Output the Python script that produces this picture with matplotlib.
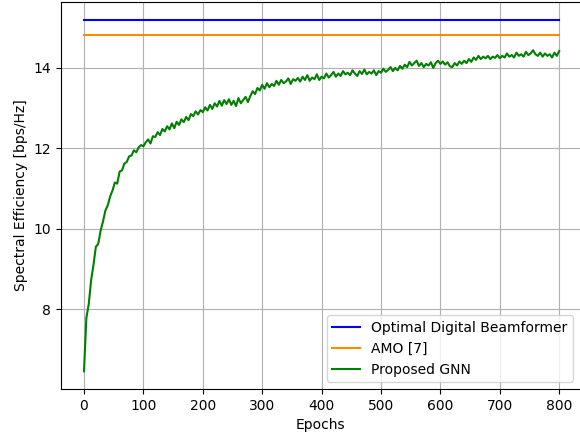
import numpy as np
import matplotlib
matplotlib.use("Agg")
import matplotlib.pyplot as plt

# epochs sampled every 4 steps
epochs = np.arange(0, 801, 4)

optimal_se = 15.2
amo_se = 14.81

gnn_se = [
    6.45, 7.78, 8.12, 8.72, 9.10, 9.55, 9.62, 9.95, 10.18, 10.45,
    10.58, 10.80, 10.95, 11.15, 11.12, 11.42, 11.45, 11.62, 11.66, 11.80,
    11.82, 11.95, 11.90, 12.02, 12.08, 12.05, 12.15, 12.22, 12.12, 12.30,
    12.28, 12.40, 12.33, 12.48, 12.42, 12.55, 12.47, 12.62, 12.50, 12.66,
    12.58, 12.72, 12.65, 12.78, 12.70, 12.85, 12.80, 12.92, 12.84, 12.95,
    12.90, 13.02, 12.94, 13.08, 12.98, 13.12, 13.04, 13.18, 13.06, 13.20,
    13.10, 13.22, 13.08, 13.18, 13.05, 13.25, 13.12, 13.20, 13.28, 13.15,
    13.30, 13.42, 13.35, 13.50, 13.44, 13.58, 13.48, 13.62, 13.52, 13.60,
    13.55, 13.68, 13.58, 13.70, 13.62, 13.66, 13.74, 13.60, 13.72, 13.68,
    13.75, 13.66, 13.78, 13.70, 13.82, 13.68, 13.76, 13.72, 13.84, 13.70,
    13.78, 13.74, 13.86, 13.76, 13.82, 13.90, 13.78, 13.86, 13.80, 13.92,
    13.84, 13.88, 13.82, 13.94, 13.86, 13.80, 13.92, 13.85, 13.96, 13.84,
    13.90, 13.86, 13.94, 13.82, 13.92, 13.88, 13.98, 13.90, 13.95, 14.02,
    13.92, 14.00, 13.94, 14.05, 13.98, 14.08, 14.02, 14.15, 14.06, 14.12,
    14.18, 14.05, 14.12, 14.02, 14.10, 14.06, 14.14, 14.00, 14.12, 14.18,
    14.10, 14.16, 14.08, 14.14, 14.04, 14.02, 14.12, 14.06, 14.16, 14.10,
    14.18, 14.12, 14.22, 14.15, 14.26, 14.20, 14.30, 14.22, 14.28, 14.24,
    14.30, 14.22, 14.28, 14.25, 14.32, 14.24, 14.30, 14.26, 14.36, 14.28,
    14.32, 14.26, 14.38, 14.30, 14.34, 14.28, 14.40, 14.32, 14.36, 14.44,
    14.34, 14.30, 14.38, 14.28, 14.36, 14.30, 14.34, 14.26, 14.38, 14.30,
    14.42,
]

fig = plt.figure(figsize=(5.8, 4.4), dpi=100)
# the reference is cropped on the right: axes run to the figure edge, no right spine
ax = fig.add_axes([61 / 580, 51 / 440, 519 / 580, 387 / 440])

ax.plot(epochs, [optimal_se] * len(epochs), color="blue", lw=1.5, label="Optimal Digital Beamformer")
ax.plot(epochs, [amo_se] * len(epochs), color="darkorange", lw=1.5, label="AMO [7]")
ax.plot(epochs, gnn_se, color="green", lw=1.5, label="Proposed GNN")

ax.set_xlim(-38.7, 835)
ax.set_ylim(6.01, 15.64)
ax.spines["right"].set_visible(False)
ax.set_xlabel("Epochs")
ax.set_ylabel("Spectral Efficiency [bps/Hz]")
ax.set_xticks(range(0, 801, 100))
ax.set_yticks([8, 10, 12, 14])
ax.grid(True)
ax.legend(loc="lower right")

fig.savefig("out.png", dpi=100)
